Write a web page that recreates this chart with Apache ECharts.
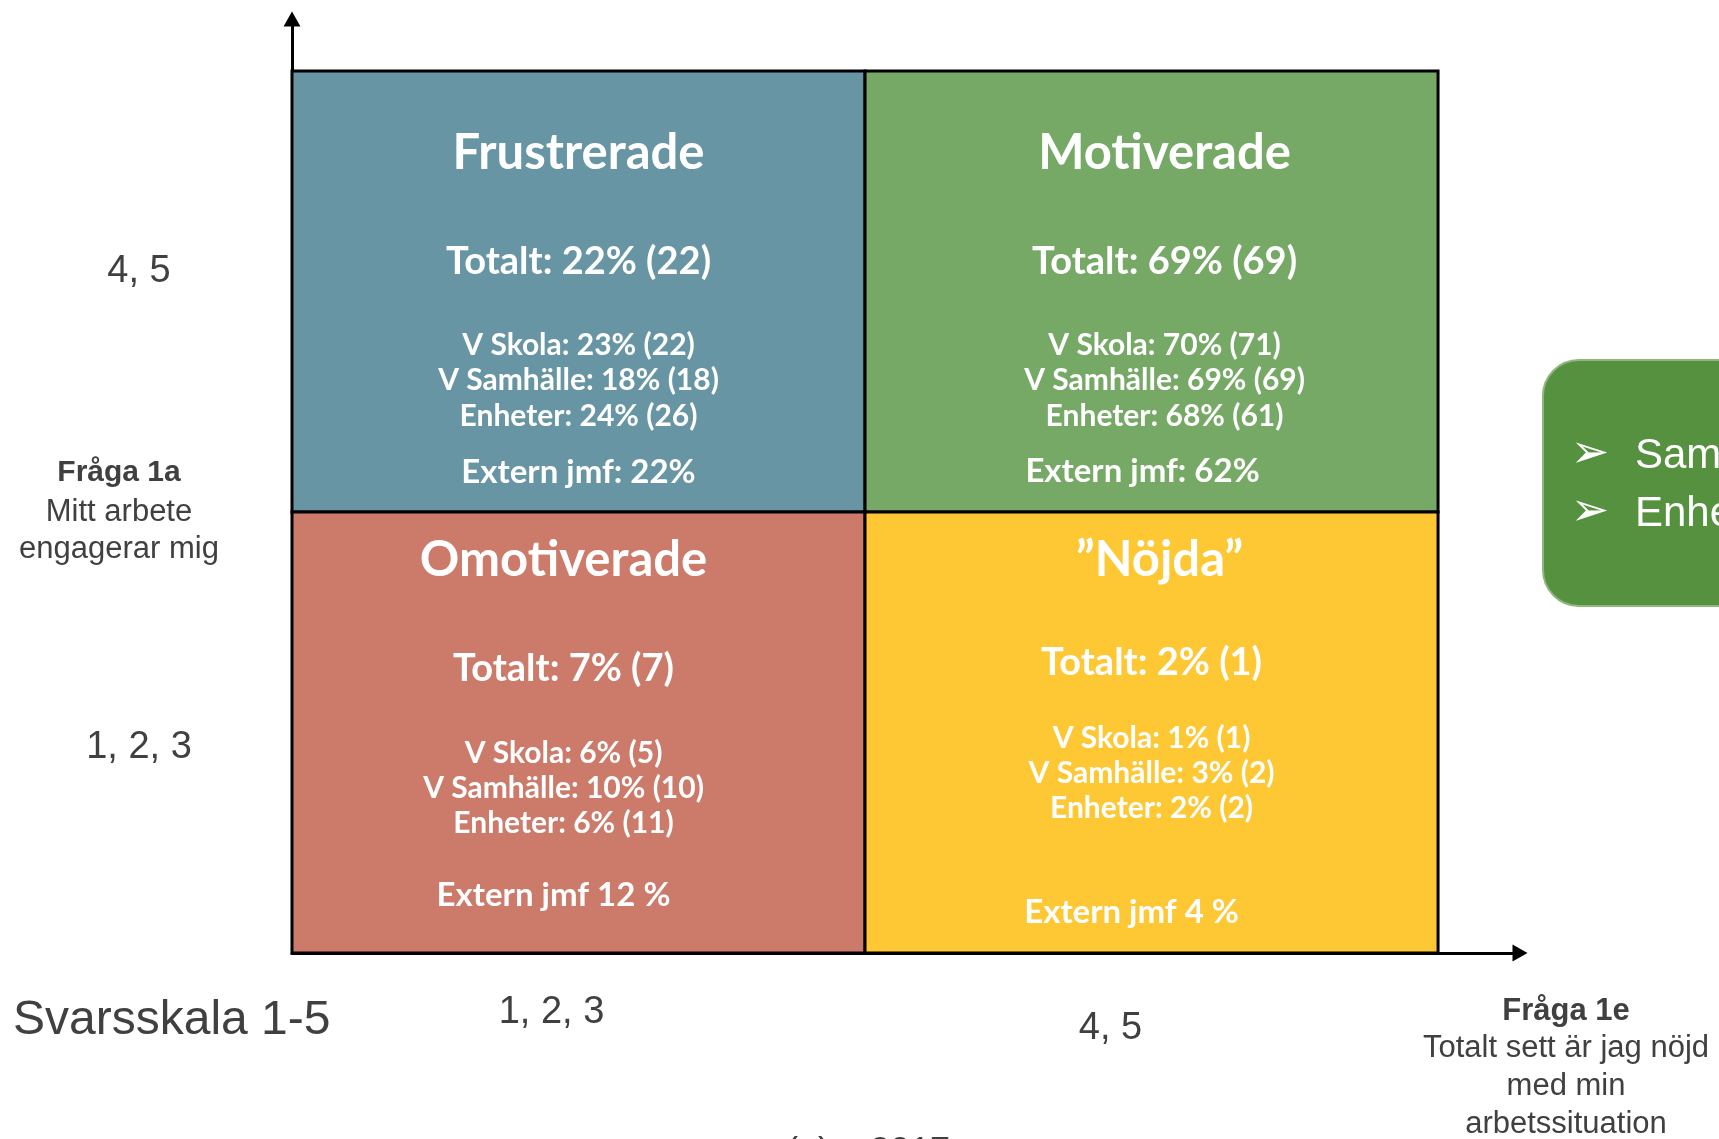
<!DOCTYPE html>
<html>
<head>
<meta charset="utf-8">
<title>Fråga 1a / Fråga 1e</title>
<script src="https://cdn.jsdelivr.net/npm/echarts@6/dist/echarts.min.js"></script>
<style>
html,body{margin:0;padding:0;background:#fff;}
#chart{width:1719px;height:1139px;}
</style>
</head>
<body>
<div id="chart"></div>
<script>
// kvadranter: [x-kategori, y-kategori]
var quadrantCells = [[0, 1], [1, 1], [0, 0], [1, 0]];
var quadrantNames = ['Frustrerade', 'Motiverade', 'Omotiverade', '”Nöjda”'];
var totalPct = [22, 69, 7, 2];
var totalN = [22, 69, 7, 1];
var skolaPct = [23, 70, 6, 1];
var skolaN = [22, 71, 5, 1];
var samhPct = [18, 69, 10, 3];
var samhN = [18, 69, 10, 2];
var enhPct = [24, 68, 6, 2];
var enhN = [26, 61, 11, 2];
var externPct = [22, 62, 12, 4];
var xTickLabels = ['1, 2, 3', '4, 5'];
var yTickLabels = ['1, 2, 3', '4, 5'];

// utseende
var cellColors = ['#6795a3', '#76a966', '#cc7a6a', '#fec734'];
// förskjutning [dx, dy] från cellens mitt / överkant
var textLayout = [
	{title: [0, 82], total: [0, 191], lines: [0, 274, 35.5], extern: [0, 401]},
	{title: [13, 82], total: [13, 191], lines: [13, 274, 35.5], extern: [-9, 400]},
	{title: [-15, 48], total: [-15, 157], lines: [-15, 241, 35], extern: [-25, 383]},
	{title: [8, 48], total: [0, 151], lines: [0, 226, 35], extern: [-20, 400]}
];
var gray = '#404040';
var labelFont = '"Liberation Sans", Arial, sans-serif';

function pctText(p, n) {
	return p + '% (' + n + ')';
}

function externText(i) {
	if (quadrantCells[i][1] === 1) return 'Extern jmf: ' + externPct[i] + '%';
	return 'Extern jmf ' + externPct[i] + ' %';
}

function tickName(list, v) {
	var k = Math.round(v - 0.5);
	if (Math.abs(v - 0.5 - k) < 1e-6 && list[k]) return '{t' + k + '|' + list[k] + '}';
	return '';
}

function cellText(x, y, text, size) {
	return {
		type: 'text',
		x: x,
		y: y,
		style: {
			text: text,
			font: 'bold ' + size + 'px Lato, "Noto Sans", sans-serif',
			fill: '#fff',
			align: 'center',
			verticalAlign: 'middle'
		}
	};
}

function renderCell(params, api) {
	var i = params.dataIndex;
	var x = api.value(0), y = api.value(1);
	var p0 = api.coord([x, y + 1]);
	var p1 = api.coord([x + 1, y]);
	var w = p1[0] - p0[0], h = p1[1] - p0[1];
	var cx = p0[0] + w / 2, top = p0[1];
	var L = textLayout[i];
	var children = [{
		type: 'rect',
		shape: {x: p0[0], y: p0[1], width: w, height: h},
		style: {fill: cellColors[i], stroke: '#000', lineWidth: 3}
	}];
	children.push(cellText(cx + L.title[0], top + L.title[1], quadrantNames[i], 49));
	children.push(cellText(cx + L.total[0], top + L.total[1], 'Totalt: ' + pctText(totalPct[i], totalN[i]), 38));
	var lines = [
		'V Skola: ' + pctText(skolaPct[i], skolaN[i]),
		'V Samhälle: ' + pctText(samhPct[i], samhN[i]),
		'Enheter: ' + pctText(enhPct[i], enhN[i])
	];
	for (var k = 0; k < lines.length; k++) {
		children.push(cellText(cx + L.lines[0], top + L.lines[1] + k * L.lines[2], lines[k], 30));
	}
	children.push(cellText(cx + L.extern[0], top + L.extern[1], externText(i), 33));
	return {type: 'group', children: children};
}

function grayText(x, y, text, size, bold, align) {
	return {
		type: 'text',
		x: x,
		y: y,
		silent: true,
		style: {
			text: text,
			font: (bold ? 'bold ' : '') + size + 'px ' + labelFont,
			fill: gray,
			align: align || 'center',
			verticalAlign: 'middle'
		}
	};
}

var tickStyle = {fontSize: 38, fontFamily: labelFont, color: gray};

var option = {
	backgroundColor: '#fff',
	animation: false,
	grid: {left: 292, top: 19, right: 199, bottom: 186, containLabel: false},
	xAxis: {
		type: 'value',
		min: 0,
		max: 2.143,
		interval: 0.5,
		splitLine: {show: false},
		axisTick: {show: false},
		axisLine: {
			show: true,
			symbol: ['none', 'triangle'],
			symbolSize: [17, 15],
			lineStyle: {color: '#000', width: 3}
		},
		axisLabel: {
			margin: 41,
			showMinLabel: true,
			showMaxLabel: true,
			formatter: function (v) { return tickName(xTickLabels, v); },
			rich: {
				t0: Object.assign({padding: [0, 54, 0, 0]}, tickStyle),
				t1: Object.assign({padding: [16, 82, 0, 0]}, tickStyle)
			}
		}
	},
	yAxis: {
		type: 'value',
		min: 0,
		max: 2.118,
		interval: 0.5,
		splitLine: {show: false},
		axisTick: {show: false},
		axisLine: {
			show: true,
			symbol: ['none', 'triangle'],
			symbolSize: [17, 15],
			lineStyle: {color: '#000', width: 3}
		},
		axisLabel: {
			margin: 153,
			align: 'center',
			formatter: function (v) { return tickName(yTickLabels, v); },
			rich: {
				t0: Object.assign({padding: [30, 0, 0, 0]}, tickStyle),
				t1: Object.assign({padding: [0, 0, 40, 0]}, tickStyle)
			}
		}
	},
	series: [{
		type: 'custom',
		coordinateSystem: 'cartesian2d',
		clip: false,
		silent: true,
		z: 1,
		encode: {x: 0, y: 1},
		data: quadrantCells,
		renderItem: renderCell
	}],
	graphic: [
		grayText(119, 473, 'Fråga 1a', 30, true),
		grayText(119, 512, 'Mitt arbete', 31),
		grayText(119, 549, 'engagerar mig', 31),
		grayText(13, 1021, 'Svarsskala 1-5', 48, false, 'left'),
		grayText(1566, 1011, 'Fråga 1e', 31, true),
		grayText(1566, 1048, 'Totalt sett är jag nöjd', 31),
		grayText(1566, 1086, 'med min', 31),
		grayText(1566, 1124, 'arbetssituation', 31),
		{
			type: 'text',
			x: 786,
			y: 1135,
			silent: true,
			style: {text: '(n) – 2017', font: '36px ' + labelFont, fill: gray, align: 'left', verticalAlign: 'top'}
		},
		{
			type: 'rect',
			silent: true,
			shape: {x: 1543, y: 360, width: 260, height: 246, r: 36},
			style: {fill: '#55913f', stroke: '#8fb77f', lineWidth: 2}
		},
		{
			type: 'text', x: 1590, y: 455, silent: true,
			style: {text: '➢', font: '46px "DejaVu Sans"', fill: '#fff', align: 'center', verticalAlign: 'middle'}
		},
		{
			type: 'text', x: 1635, y: 456, silent: true,
			style: {text: 'Samhälle', font: '42px ' + labelFont, fill: '#fff', align: 'left', verticalAlign: 'middle'}
		},
		{
			type: 'text', x: 1590, y: 513, silent: true,
			style: {text: '➢', font: '46px "DejaVu Sans"', fill: '#fff', align: 'center', verticalAlign: 'middle'}
		},
		{
			type: 'text', x: 1635, y: 514, silent: true,
			style: {text: 'Enheter', font: '42px ' + labelFont, fill: '#fff', align: 'left', verticalAlign: 'middle'}
		}
	]
};

var mychart = echarts.init(document.getElementById('chart'));
mychart.setOption(option);
</script>
</body>
</html>
